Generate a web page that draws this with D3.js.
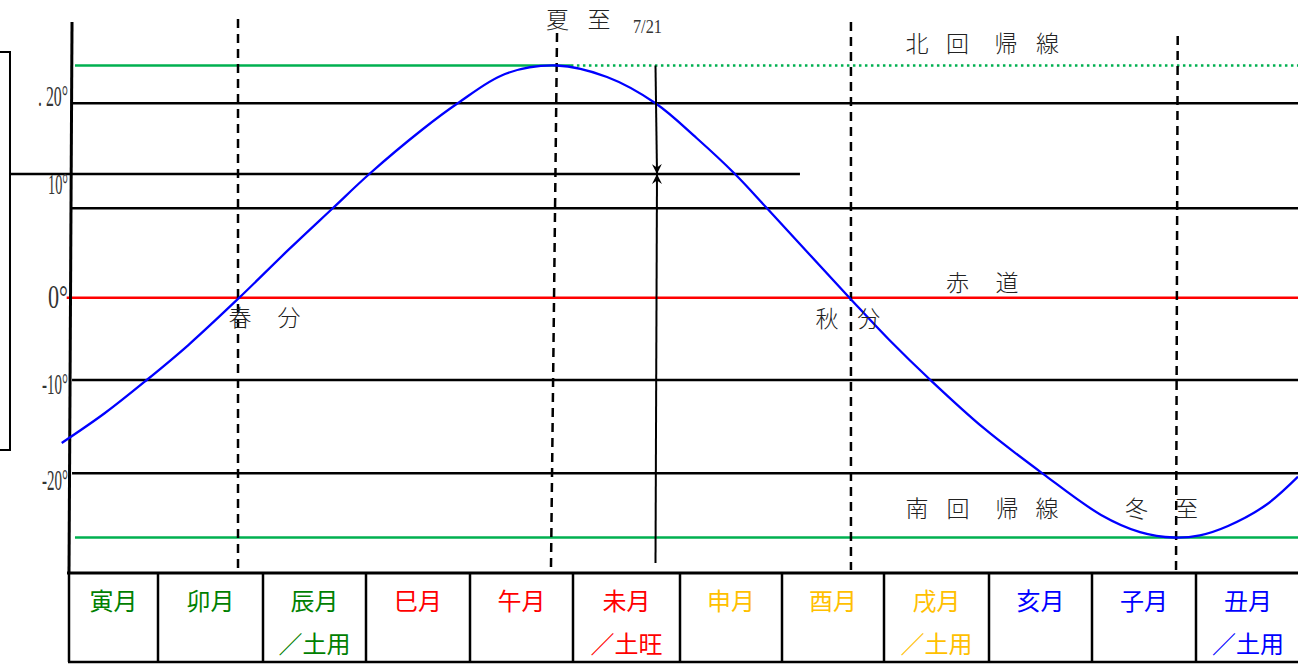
<!DOCTYPE html>
<html>
<head>
<meta charset="utf-8">
<script src="https://cdn.jsdelivr.net/npm/d3@7"></script>
<style>
  body { margin: 0; background: #fff; }
  svg { display: block; }
</style>
</head>
<body>
<div id="chart"></div>
<script>
// ---- data ----
// month cells of the table (x domain: 0..12, one unit per month cell)
const months = ["寅月", "卯月", "辰月", "巳月", "午月", "未月", "申月", "酉月", "戌月", "亥月", "子月", "丑月"];
const monthNotes = ["", "", "／土用", "", "", "／土旺", "", "", "／土用", "", "", "／土用"];
const monthColors = ["#008000", "#008000", "#008000", "#ff0000", "#ff0000", "#ff0000",
                     "#ffc000", "#ffc000", "#ffc000", "#0000ff", "#0000ff", "#0000ff"];

// sun declination (month units, degrees)
const sunMonth = [-0.082, 0.404, 0.873, 1.289, 1.774, 2.246, 2.677, 3.032, 3.536, 3.882, 4.340, 4.842, 5.318,
                  5.771, 6.162, 6.539, 6.853, 7.661, 8.051, 8.442, 8.948, 9.518, 10.087, 10.462, 10.788,
                  11.038, 11.308, 11.673, 11.981];
const sunDecl = [-16.75, -13.54, -10, -5.75, 0, 3.86, 7.23, 10, 16.22, 20, 22.67, 23.44, 22.39,
                 20, 15.09, 10, 7.23, 0, -5.14, -10, -15.14, -20, -22.23, -23.15, -23.44,
                 -23.32, -22.82, -21.70, -20.18];

// reference lines (degrees)
const tropic = 23.44;
const gridDecl = [20, 7.23, -10, -20];
const shortLineDecl = 10;
const tickValues = [20, 10, 0, -10, -20];
const tickLabels = [". 20°", "10°", "0°", "-10°", "-20°"];

// solstice / equinox markers (month units, top and bottom end)
const termNames = ["春分", "夏至", "秋分", "冬至"];
const termTop = [1.762, 4.845, 7.676, 10.824];
const termBottom = [1.762, 4.786, 7.676, 10.808];

// 7/21 marker
const markDate = 5.771;
const markLabel = "7/21";

// text annotations (one entry per character)
const notes = [
  { chars: ["夏", "至"], u: [4.850, 5.243], d: 27.76 },
  { chars: ["北", "回", "帰", "線"], u: [8.314, 8.700, 9.165, 9.568], d: 25.6 },
  { chars: ["赤", "道"], u: [8.700, 9.175], d: 1.35 },
  { chars: ["春", "分"], u: [1.781, 2.252], d: -2.22 },
  { chars: ["秋", "分"], u: [7.441, 7.850], d: -2.31 },
  { chars: ["南", "回", "帰", "線", "冬", "至"], u: [8.314, 8.705, 9.175, 9.563, 10.428, 10.909], d: -21.83 }
];

// ---- layout ----
const W = 1298, H = 664;
const cellEdges = [69, 158, 263, 366, 470, 573, 680, 782, 884, 989, 1092, 1196, 1300];
const tableTop = 573, tableBottom = 662;
const termTopPx = [19, 33, 22, 36];
const tickDy = [2, 19, 10, 13, 16];
const tickWidth = [30, 20, 20, 26, 26];
const tickSize = [30, 30, 34, 30, 30];
const cjk = "'Noto Sans CJK JP', 'Noto Sans CJK SC', sans-serif";

const svg = d3.select("#chart")
  .append("svg")
  .attr("width", W)
  .attr("height", H);

// x: month cells (uneven widths), y: declination (hand-drawn, uneven spacing)
const x = d3.scaleLinear()
  .domain(d3.range(13))
  .range(cellEdges);

const y = d3.scaleLinear()
  .domain([-tropic, -20, -10, 0, 10, 20, tropic])
  .range([537.5, 473.3, 380, 297.7, 174, 103.3, 65.5]);

const defs = svg.append("defs");
defs.append("marker")
  .attr("id", "arr")
  .attr("viewBox", "0 -5 10 10")
  .attr("refX", 10)
  .attr("refY", 0)
  .attr("markerWidth", 10)
  .attr("markerHeight", 10)
  .attr("markerUnits", "userSpaceOnUse")
  .attr("orient", "auto")
  .append("path")
  .attr("d", "M0,-5L10,0L0,5L3.5,0Z")
  .attr("fill", "#000");

// left bracket
const bx = x(-0.663);
svg.append("path")
  .attr("d", `M0,${y(24.67)}H${bx}V${y(-17.5)}H0`)
  .attr("fill", "none")
  .attr("stroke", "#000")
  .attr("stroke-width", 2);

// black reference lines
svg.selectAll(".grid")
  .data(gridDecl)
  .enter().append("line")
  .attr("class", "grid")
  .attr("x1", x(0.034))
  .attr("x2", x(12))
  .attr("y1", d => y(d))
  .attr("y2", d => y(d))
  .attr("stroke", "#000")
  .attr("stroke-width", 2.5);

svg.append("line")
  .attr("x1", bx)
  .attr("x2", x(7.176))
  .attr("y1", y(shortLineDecl))
  .attr("y2", y(shortLineDecl))
  .attr("stroke", "#000")
  .attr("stroke-width", 2.5);

// equator
svg.append("line")
  .attr("x1", x(-0.026))
  .attr("x2", x(12))
  .attr("y1", y(0))
  .attr("y2", y(0))
  .attr("stroke", "#ff0000")
  .attr("stroke-width", 2.5);

// tropics
svg.append("line")
  .attr("x1", x(0.067))
  .attr("x2", x(4.98))
  .attr("y1", y(tropic))
  .attr("y2", y(tropic))
  .attr("stroke", "#00b050")
  .attr("stroke-width", 2.5);

svg.append("line")
  .attr("x1", x(4.98))
  .attr("x2", x(12))
  .attr("y1", y(tropic))
  .attr("y2", y(tropic))
  .attr("stroke", "#00b050")
  .attr("stroke-width", 2.5)
  .attr("stroke-dasharray", "2.5,3.5");

svg.append("line")
  .attr("x1", x(0.067))
  .attr("x2", x(12))
  .attr("y1", y(-tropic))
  .attr("y2", y(-tropic))
  .attr("stroke", "#00b050")
  .attr("stroke-width", 2.5);

// dashed solstice / equinox lines
svg.selectAll(".term")
  .data(termNames)
  .enter().append("line")
  .attr("class", "term")
  .attr("x1", (d, i) => x(termTop[i]))
  .attr("x2", (d, i) => x(termBottom[i]))
  .attr("y1", (d, i) => termTopPx[i])
  .attr("y2", tableTop - 3)
  .attr("stroke", "#000")
  .attr("stroke-width", 2.5)
  .attr("stroke-dasharray", "9,6");

// vertical axis line
svg.append("line")
  .attr("x1", x(0.034))
  .attr("x2", x(0))
  .attr("y1", 22)
  .attr("y2", tableTop)
  .attr("stroke", "#000")
  .attr("stroke-width", 3);

// sun path
const sunData = sunMonth.map((u, i) => ({ u: u, d: sunDecl[i] }));
const line = d3.line()
  .x(d => x(d.u))
  .y(d => y(d.d))
  .curve(d3.curveCatmullRom.alpha(0.5));

svg.append("path")
  .datum(sunData)
  .attr("d", line)
  .attr("fill", "none")
  .attr("stroke", "#0000ff")
  .attr("stroke-width", 2.3);

// 7/21 arrows
svg.append("line")
  .attr("x1", x(markDate))
  .attr("y1", y(tropic))
  .attr("x2", x(markDate) + 1.5)
  .attr("y2", y(shortLineDecl))
  .attr("stroke", "#000")
  .attr("stroke-width", 2)
  .attr("marker-end", "url(#arr)");

svg.append("line")
  .attr("x1", x(markDate))
  .attr("y1", 563)
  .attr("x2", x(markDate) + 1.5)
  .attr("y2", y(shortLineDecl))
  .attr("stroke", "#000")
  .attr("stroke-width", 2)
  .attr("marker-end", "url(#arr)");

svg.append("text")
  .attr("x", x(5.696))
  .attr("y", y(26.4))
  .attr("text-anchor", "middle")
  .attr("textLength", 29)
  .attr("lengthAdjust", "spacingAndGlyphs")
  .style("font-family", "'Liberation Serif', serif")
  .style("font-size", "19px")
  .style("fill", "#333")
  .text(markLabel);

// y labels
const yAxis = svg.append("g")
  .attr("transform", `translate(${x(0) - 1},0)`)
  .call(d3.axisLeft(y).tickValues(tickValues).tickSize(0).tickPadding(0)
    .tickFormat((d, i) => tickLabels[i]));
yAxis.select(".domain").remove();
yAxis.selectAll("text")
  .attr("dy", null)
  .attr("y", (d, i) => tickDy[i])
  .attr("textLength", (d, i) => tickWidth[i])
  .attr("lengthAdjust", "spacingAndGlyphs")
  .style("font-family", "'Liberation Serif', serif")
  .style("font-size", (d, i) => tickSize[i] + "px")
  .style("fill", "#333");

// annotations
notes.forEach(n => {
  svg.selectAll(null)
    .data(n.chars)
    .enter().append("text")
    .attr("x", (c, i) => x(n.u[i]))
    .attr("y", y(n.d))
    .attr("text-anchor", "middle")
    .attr("dominant-baseline", "central")
    .style("font-family", cjk)
    .style("font-weight", 300)
    .style("font-size", "23px")
    .style("fill", "#222")
    .text(c => c);
});

// month table
const table = svg.append("g");
table.append("line")
  .attr("x1", x(0) - 2).attr("x2", x(12))
  .attr("y1", tableTop).attr("y2", tableTop)
  .attr("stroke", "#000").attr("stroke-width", 3);
table.append("line")
  .attr("x1", x(0) - 1).attr("x2", x(12))
  .attr("y1", tableBottom).attr("y2", tableBottom)
  .attr("stroke", "#000").attr("stroke-width", 2.5);
table.selectAll(".edge")
  .data(d3.range(12))
  .enter().append("line")
  .attr("class", "edge")
  .attr("x1", d => x(d)).attr("x2", d => x(d))
  .attr("y1", tableTop).attr("y2", tableBottom)
  .attr("stroke", "#000").attr("stroke-width", 2.5);

table.selectAll(".month")
  .data(months)
  .enter().append("text")
  .attr("class", "month")
  .attr("x", (d, i) => (x(i) + x(i + 1)) / 2)
  .attr("y", 599)
  .attr("text-anchor", "middle")
  .attr("dominant-baseline", "central")
  .style("font-family", cjk)
  .style("font-size", "24px")
  .style("fill", (d, i) => monthColors[i])
  .text(d => d);

table.selectAll(".note")
  .data(monthNotes)
  .enter().append("text")
  .attr("class", "note")
  .attr("x", (d, i) => (x(i) + x(i + 1)) / 2)
  .attr("y", 642)
  .attr("text-anchor", "middle")
  .attr("dominant-baseline", "central")
  .style("font-family", cjk)
  .style("font-size", "24px")
  .style("fill", (d, i) => monthColors[i])
  .text(d => d);
</script>
</body>
</html>
